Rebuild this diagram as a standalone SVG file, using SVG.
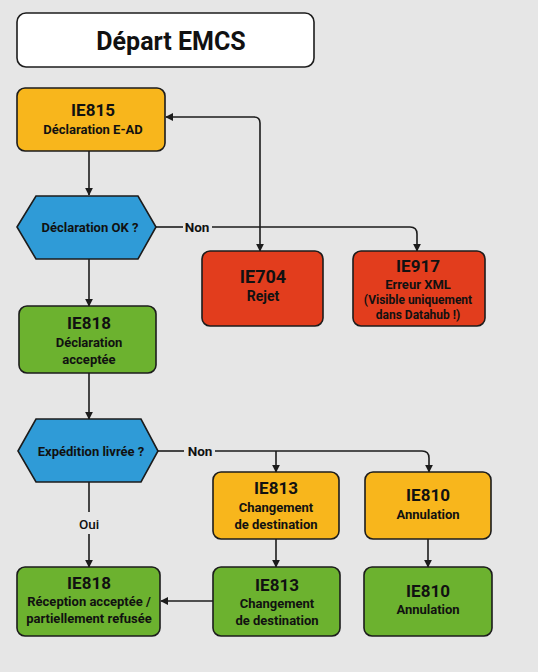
<svg xmlns="http://www.w3.org/2000/svg" width="538" height="672" viewBox="0 0 538 672">
<defs>
<style>
.box{stroke:#1c1c1c;stroke-width:1.6}
.or{fill:#F8B61C}.rd{fill:#E23D1D}.gr{fill:#6CB22F}.bl{fill:#2F9BD7}.wh{fill:#ffffff}
text{font-family:Roboto,"Liberation Sans",sans-serif;fill:#111;text-anchor:middle}
.t{font-size:17px;font-weight:bold}
.s{font-size:13px;font-weight:bold}
.l{font-size:13.5px;font-weight:bold}
.c{fill:none;stroke:#1c1c1c;stroke-width:1.6}
</style>
<marker id="ah" viewBox="0 0 10 10" refX="9" refY="5" markerWidth="8" markerHeight="8" markerUnits="userSpaceOnUse" orient="auto-start-reverse">
<path d="M0,0 L10,5 L0,10 z" fill="#1c1c1c"/>
</marker>
</defs>
<rect width="538" height="672" fill="#E6E6E6"/>

<g id="connectors">
<path class="c" d="M89,151 V195" marker-end="url(#ah)"/>
<path class="c" d="M166,117 H254 Q260,117 260,123 V251" marker-start="url(#ah)" marker-end="url(#ah)"/>
<path class="c" d="M156,227 H183"/>
<path class="c" d="M212,227 H410 Q417,227 417,234 V251" marker-end="url(#ah)"/>
<path class="c" d="M89,259 V306" marker-end="url(#ah)"/>
<path class="c" d="M89,373 V419" marker-end="url(#ah)"/>
<path class="c" d="M158,451 H184"/>
<path class="c" d="M215,451 H422 Q429,451 429,458 V472" marker-end="url(#ah)"/>
<path class="c" d="M276,451 V472" marker-end="url(#ah)"/>
<path class="c" d="M89,482 V512"/>
<path class="c" d="M89,534 V567" marker-end="url(#ah)"/>
<path class="c" d="M276,539 V567" marker-end="url(#ah)"/>
<path class="c" d="M428,539 V567" marker-end="url(#ah)"/>
<path class="c" d="M213,601 H161" marker-end="url(#ah)"/>
<text class="l" x="197" y="232">Non</text>
<text class="l" x="200" y="456">Non</text>
<text class="l" x="89" y="529" style="font-weight:500">Oui</text>
</g>

<g id="title">
<rect class="box wh" x="17" y="13" width="297" height="54" rx="9"/>
<text x="171" y="50" style="font-size:25px;font-weight:bold">Départ EMCS</text>
</g>

<g id="ie815">
<rect class="box or" x="17" y="88" width="148" height="63" rx="8"/>
<text class="t" x="93" y="116">IE815</text>
<text class="s" x="93" y="134">Déclaration E-AD</text>
</g>

<g id="decision1">
<polygon class="box bl" points="17,227 36,196 138,196 156,227 138,259 36,259"/>
<text class="s" x="90" y="232">Déclaration OK ?</text>
</g>

<g id="ie704">
<rect class="box rd" x="202" y="251" width="121" height="75" rx="8"/>
<text class="t" x="263" y="283" style="font-size:18px">IE704</text>
<text class="s" x="263" y="301" style="font-size:14px">Rejet</text>
</g>

<g id="ie917">
<rect class="box rd" x="353" y="251" width="132" height="75" rx="8"/>
<text class="t" x="418" y="272">IE917</text>
<text class="s" x="418" y="289">Erreur XML</text>
<text class="s" x="418" y="304" style="font-size:12px">(Visible uniquement</text>
<text class="s" x="418" y="319" style="font-size:12px">dans Datahub !)</text>
</g>

<g id="ie818a">
<rect class="box gr" x="19" y="306" width="137" height="67" rx="8"/>
<text class="t" x="89" y="329">IE818</text>
<text class="s" x="89" y="347">Déclaration</text>
<text class="s" x="89" y="364">acceptée</text>
</g>

<g id="decision2">
<polygon class="box bl" points="18,451 36,419 141,419 158,451 141,482 36,482"/>
<text class="s" x="91" y="456">Expédition livrée ?</text>
</g>

<g id="ie813a">
<rect class="box or" x="213" y="472" width="126" height="67" rx="8"/>
<text class="t" x="276" y="494">IE813</text>
<text class="s" x="276" y="512">Changement</text>
<text class="s" x="276" y="529">de destination</text>
</g>

<g id="ie810a">
<rect class="box or" x="365" y="472" width="126" height="67" rx="8"/>
<text class="t" x="428" y="501">IE810</text>
<text class="s" x="428" y="519">Annulation</text>
</g>

<g id="ie818b">
<rect class="box gr" x="17" y="567" width="143" height="69" rx="8"/>
<text class="t" x="89" y="589">IE818</text>
<text class="s" x="89" y="606">Réception acceptée /</text>
<text class="s" x="89" y="623">partiellement refusée</text>
</g>

<g id="ie813b">
<rect class="box gr" x="213" y="567" width="127" height="69" rx="8"/>
<text class="t" x="277" y="591">IE813</text>
<text class="s" x="277" y="608">Changement</text>
<text class="s" x="277" y="625">de destination</text>
</g>

<g id="ie810b">
<rect class="box gr" x="364" y="567" width="128" height="69" rx="8"/>
<text class="t" x="428" y="597">IE810</text>
<text class="s" x="428" y="614">Annulation</text>
</g>
</svg>
